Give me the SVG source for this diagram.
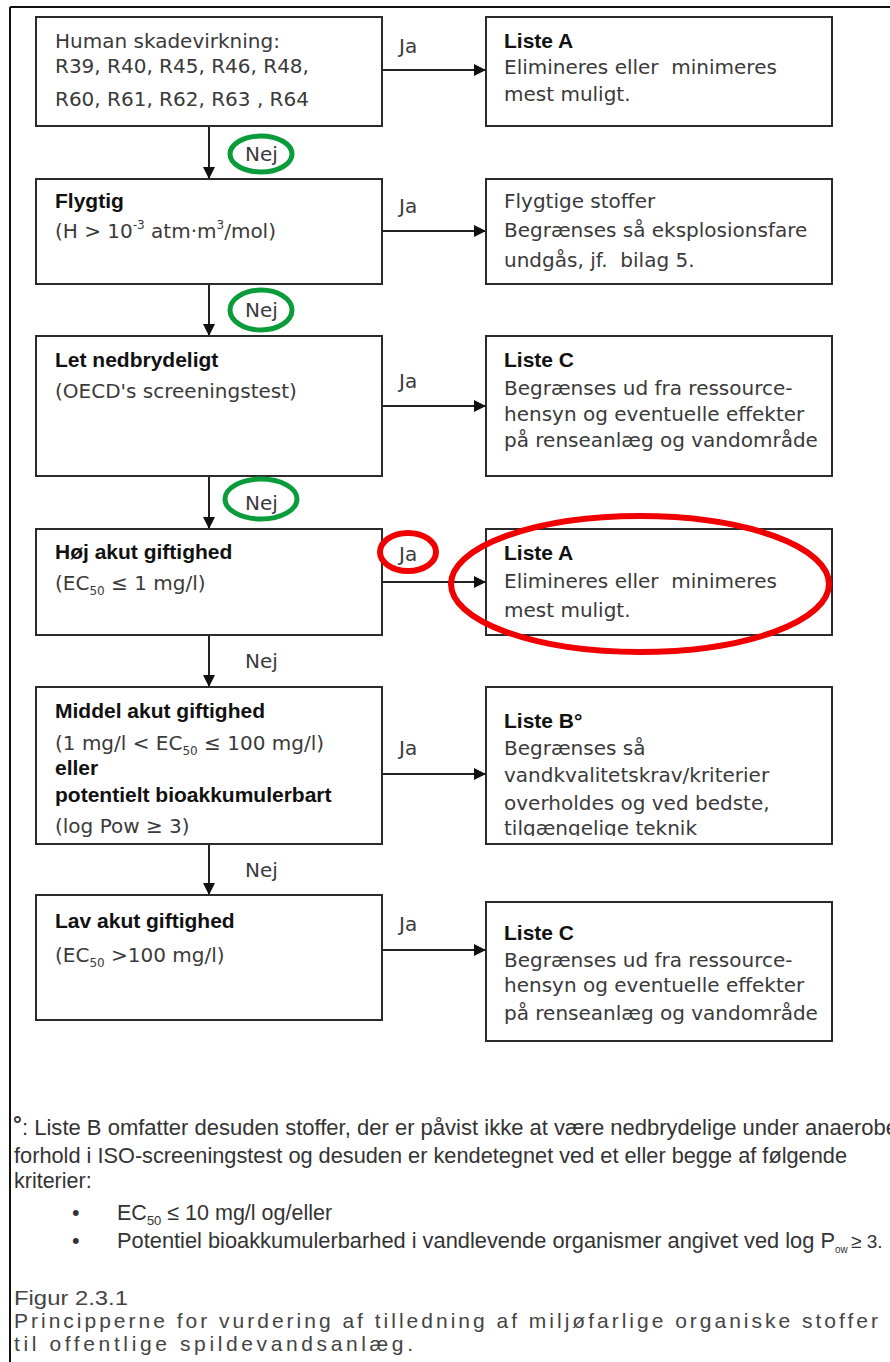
<svg xmlns="http://www.w3.org/2000/svg" width="890" height="1362" viewBox="0 0 890 1362">
<style>
.box{fill:#fff;stroke:#2b2b2b;stroke-width:2}
.t{font-family:"DejaVu Sans",sans-serif;font-size:20px;fill:#3a3a3a}
.b{font-family:"Liberation Sans",Arial,sans-serif;font-weight:bold;font-size:21px;fill:#111}
.fn{font-family:"Liberation Sans",Arial,sans-serif;font-size:21.5px;fill:#333}
.cap{font-family:"Liberation Sans",Arial,sans-serif;font-size:21px;fill:#444}
.con{stroke:#222;stroke-width:2;fill:none}
.green{fill:none;stroke:#0a9b3b;stroke-width:5}
.red{fill:none;stroke:#f00000;stroke-width:6}
</style>
<defs>
<marker id="ah" markerUnits="userSpaceOnUse" markerWidth="13" markerHeight="12" refX="12" refY="6" orient="auto">
<path d="M0,0 L12,6 L0,12 z" fill="#111"/>
</marker>
<clipPath id="clipB"><rect x="486" y="687" width="346" height="149"/></clipPath>
</defs>
<rect width="890" height="1362" fill="#fff"/>
<g id="frame">
<line x1="10" y1="7" x2="890" y2="7" stroke="#111" stroke-width="2"/>
<line x1="10" y1="7" x2="10" y2="1362" stroke="#111" stroke-width="2"/>
</g>

<g id="connectors">
<line class="con" x1="209" y1="126" x2="209" y2="179" marker-end="url(#ah)"/>
<line class="con" x1="209" y1="284" x2="209" y2="336" marker-end="url(#ah)"/>
<line class="con" x1="209" y1="476" x2="209" y2="529" marker-end="url(#ah)"/>
<line class="con" x1="209" y1="635" x2="209" y2="687" marker-end="url(#ah)"/>
<line class="con" x1="209" y1="844" x2="209" y2="895" marker-end="url(#ah)"/>
<line class="con" x1="382" y1="70" x2="486" y2="70" marker-end="url(#ah)"/>
<line class="con" x1="382" y1="231" x2="486" y2="231" marker-end="url(#ah)"/>
<line class="con" x1="382" y1="406" x2="486" y2="406" marker-end="url(#ah)"/>
<line class="con" x1="382" y1="582" x2="486" y2="582" marker-end="url(#ah)"/>
<line class="con" x1="382" y1="774" x2="486" y2="774" marker-end="url(#ah)"/>
<line class="con" x1="382" y1="950" x2="486" y2="950" marker-end="url(#ah)"/>
<text class="t" x="399" y="53">Ja</text>
<text class="t" x="399" y="213">Ja</text>
<text class="t" x="399" y="388">Ja</text>
<text class="t" x="399" y="561">Ja</text>
<text class="t" x="399" y="755">Ja</text>
<text class="t" x="399" y="931">Ja</text>
<text class="t" x="245" y="161">Nej</text>
<text class="t" x="245" y="317">Nej</text>
<text class="t" x="245" y="510">Nej</text>
<text class="t" x="245" y="668">Nej</text>
<text class="t" x="245" y="877">Nej</text>
</g>

<g id="n1">
<rect class="box" x="36" y="17" width="346" height="109"/>
<text class="t" x="55" y="48">Human skadevirkning:</text>
<text class="t" x="55" y="73">R39, R40, R45, R46, R48,</text>
<text class="t" x="55" y="106">R60, R61, R62, R63 , R64</text>
</g>
<g id="r1">
<rect class="box" x="486" y="17" width="346" height="109"/>
<text class="b" x="504" y="48">Liste A</text>
<text class="t" x="504" y="74" xml:space="preserve">Elimineres eller  minimeres</text>
<text class="t" x="504" y="101">mest muligt.</text>
</g>

<g id="n2">
<rect class="box" x="36" y="179" width="346" height="105"/>
<text class="b" x="55" y="208">Flygtig</text>
<text class="t" x="55" y="238">(H &gt; 10<tspan font-size="12" dy="-9">-3</tspan><tspan dy="9"> atm·m</tspan><tspan font-size="12" dy="-9">3</tspan><tspan dy="9">/mol)</tspan></text>
</g>
<g id="r2">
<rect class="box" x="486" y="179" width="346" height="105"/>
<text class="t" x="504" y="208">Flygtige stoffer</text>
<text class="t" x="504" y="237">Begrænses så eksplosionsfare</text>
<text class="t" x="504" y="267" xml:space="preserve">undgås, jf.  bilag 5.</text>
</g>

<g id="n3">
<rect class="box" x="36" y="336" width="346" height="140"/>
<text class="b" x="55" y="367">Let nedbrydeligt</text>
<text class="t" x="55" y="398">(OECD's screeningstest)</text>
</g>
<g id="r3">
<rect class="box" x="486" y="336" width="346" height="140"/>
<text class="b" x="504" y="367">Liste C</text>
<text class="t" x="504" y="395">Begrænses ud fra ressource-</text>
<text class="t" x="504" y="421">hensyn og eventuelle effekter</text>
<text class="t" x="504" y="447">på renseanlæg og vandområde</text>
</g>

<g id="n4">
<rect class="box" x="36" y="529" width="346" height="106"/>
<text class="b" x="55" y="559">Høj akut giftighed</text>
<text class="t" x="55" y="590">(EC<tspan font-size="12" dy="5">50</tspan><tspan dy="-5"> ≤ 1 mg/l)</tspan></text>
</g>
<g id="r4">
<rect class="box" x="486" y="529" width="346" height="106"/>
<text class="b" x="504" y="560">Liste A</text>
<text class="t" x="504" y="588" xml:space="preserve">Elimineres eller  minimeres</text>
<text class="t" x="504" y="617">mest muligt.</text>
</g>

<g id="n5">
<rect class="box" x="36" y="687" width="346" height="157"/>
<text class="b" x="55" y="718">Middel akut giftighed</text>
<text class="t" x="55" y="750">(1 mg/l &lt; EC<tspan font-size="12" dy="5">50</tspan><tspan dy="-5"> ≤ 100 mg/l)</tspan></text>
<text class="b" x="55" y="775">eller</text>
<text class="b" x="55" y="802">potentielt bioakkumulerbart</text>
<text class="t" x="55" y="833">(log Pow ≥ 3)</text>
</g>
<g id="r5">
<rect class="box" x="486" y="687" width="346" height="157"/>
<text class="b" x="504" y="728">Liste B°</text>
<g clip-path="url(#clipB)">
<text class="t" x="504" y="755">Begrænses så</text>
<text class="t" x="504" y="782">vandkvalitetskrav/kriterier</text>
<text class="t" x="504" y="810">overholdes og ved bedste,</text>
<text class="t" x="504" y="835">tilgængelige teknik</text>
</g>
</g>

<g id="n6">
<rect class="box" x="36" y="895" width="346" height="125"/>
<text class="b" x="55" y="928">Lav akut giftighed</text>
<text class="t" x="55" y="962">(EC<tspan font-size="12" dy="5">50</tspan><tspan dy="-5"> &gt;100 mg/l)</tspan></text>
</g>
<g id="r6">
<rect class="box" x="486" y="902" width="346" height="139"/>
<text class="b" x="504" y="940">Liste C</text>
<text class="t" x="504" y="967">Begrænses ud fra ressource-</text>
<text class="t" x="504" y="992">hensyn og eventuelle effekter</text>
<text class="t" x="504" y="1020">på renseanlæg og vandområde</text>
</g>

<g id="footnote">
<text class="fn" x="13" y="1132" style="font-weight:bold;font-size:22px">°</text>
<text class="fn" x="22" y="1135" textLength="876" lengthAdjust="spacingAndGlyphs">: Liste B omfatter desuden stoffer, der er påvist ikke at være nedbrydelige under anaerobe</text>
<text class="fn" x="14" y="1163" textLength="833" lengthAdjust="spacingAndGlyphs">forhold i ISO-screeningstest og desuden er kendetegnet ved et eller begge af følgende</text>
<text class="fn" x="14" y="1188">kriterier:</text>
<text class="fn" x="72" y="1220">•</text>
<text class="fn" x="72" y="1248">•</text>
<text class="fn" x="117" y="1220">EC<tspan font-size="13" dy="5">50</tspan><tspan dy="-5"> ≤ 10 mg/l og/eller</tspan></text>
<text class="fn" x="117" y="1248" textLength="718" lengthAdjust="spacingAndGlyphs">Potentiel bioakkumulerbarhed i vandlevende organismer angivet ved log P</text>
<text class="fn" x="835" y="1253" style="font-size:10px">ow</text>
<text class="fn" x="851" y="1248" style="font-size:19px">≥ 3.</text>
</g>

<g id="caption">
<text class="cap" x="14" y="1305" textLength="114" lengthAdjust="spacingAndGlyphs">Figur 2.3.1</text>
<text class="cap" x="14" y="1328" textLength="864" lengthAdjust="spacing">Principperne for vurdering af tilledning af miljøfarlige organiske stoffer</text>
<text class="cap" x="14" y="1351" textLength="399" lengthAdjust="spacing">til offentlige spildevandsanlæg.</text>
</g>

<g id="highlights">
<ellipse class="green" cx="261" cy="154" rx="31" ry="18"/>
<ellipse class="green" cx="261" cy="310" rx="31" ry="20"/>
<ellipse class="green" cx="261" cy="499" rx="36" ry="20"/>
<ellipse class="red" cx="408" cy="552" rx="28" ry="19"/>
<ellipse class="red" cx="640" cy="584" rx="189" ry="68"/>
</g>
</svg>
